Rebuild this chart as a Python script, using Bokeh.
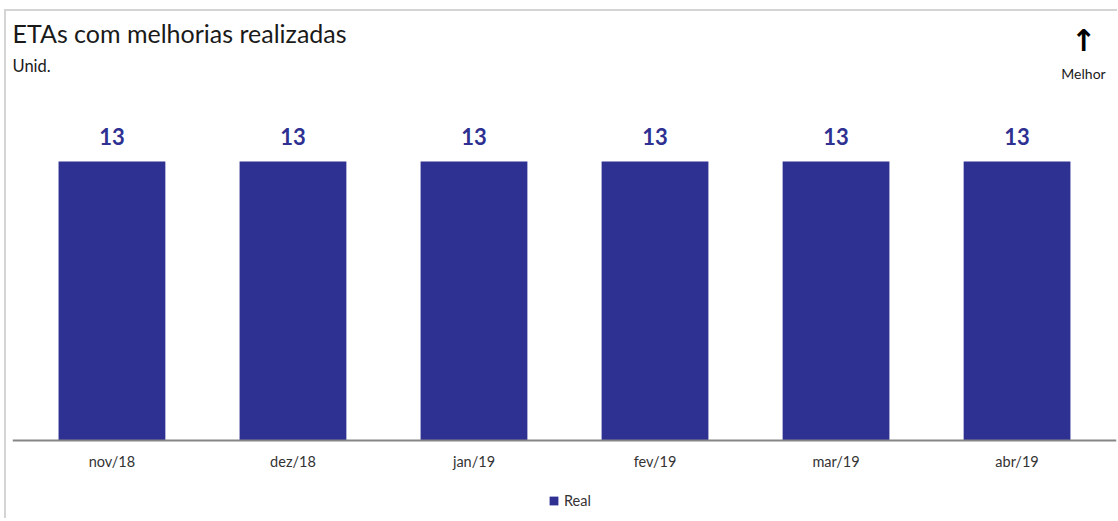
from bokeh.plotting import figure
from bokeh.models import ColumnDataSource, FactorRange, Range1d, LabelSet, Label, Legend, LegendItem, Span
from bokeh.core.properties import value
from bokeh.embed import file_html
from bokeh.resources import INLINE

categories = ["nov/18", "dez/18", "jan/19", "fev/19", "mar/19", "abr/19"]
real_values = [13, 13, 13, 13, 13, 13]
value_labels = [str(v) for v in real_values]

BAR = "#2E3192"
FONT = "Lato"

src = ColumnDataSource(dict(cat=categories, val=real_values, lab=value_labels))

p = figure(
    frame_width=1104, frame_height=504,
    x_range=FactorRange(*categories, range_padding=0.0494, range_padding_units="absolute"),
    y_range=Range1d(-3.634, 19.85),
    output_backend="svg", toolbar_location=None,
    min_border_left=6, min_border_right=1, min_border_top=3, min_border_bottom=0,
)
p.styles = {"margin-left": "4px", "margin-top": "9px",
            "border-left": "2px solid #d4d4d4", "border-top": "2px solid #d4d4d4"}
p.outline_line_color = None
p.xgrid.grid_line_color = None
p.ygrid.grid_line_color = None
p.xaxis.visible = False
p.yaxis.visible = False

r = p.vbar(x="cat", top="val", bottom=0, width=0.59, source=src, fill_color=BAR, line_color=None)

# category axis baseline and tick labels, placed with the plot's scales
p.add_layout(Span(location=0, dimension="width", line_color="#868686", line_width=2))
cat_labels = LabelSet(x="cat", y=0, text="cat", source=src, text_align="center",
                      text_baseline="middle", y_offset=-21, text_font=value(FONT),
                      text_font_size="14.5px", text_color="#333333")
p.add_layout(cat_labels)

labels = LabelSet(x="cat", y="val", text="lab", source=src, text_align="center",
                  text_baseline="alphabetic", y_offset=17, text_font=value(FONT),
                  text_font_size="22px", text_font_style="bold", text_color=BAR)
p.add_layout(labels)

p.add_layout(Label(x=0, y=486, x_units="screen", y_units="screen", text="ETAs com melhorias realizadas",
                   text_font=FONT, text_font_size="25px", text_color="#1a1a1a",
                   text_align="left", text_baseline="middle"))
p.add_layout(Label(x=0, y=453, x_units="screen", y_units="screen", text="Unid.",
                   text_font=FONT, text_font_size="16.5px", text_color="#1a1a1a",
                   text_align="left", text_baseline="middle"))
p.add_layout(Label(x=1071, y=478, x_units="screen", y_units="screen", text="↑",
                   text_font="DejaVu Sans", text_font_size="30px", text_font_style="bold",
                   text_color="#000000", text_align="center", text_baseline="middle"))
p.add_layout(Label(x=1071, y=445, x_units="screen", y_units="screen", text="Melhor",
                   text_font=FONT, text_font_size="14px", text_color="#1a1a1a",
                   text_align="center", text_baseline="middle"))

legend = Legend(items=[LegendItem(label="Real", renderers=[r])], orientation="horizontal",
                location=(536, 9), border_line_color=None, background_fill_alpha=0,
                label_text_font=FONT, label_text_font_size="14.5px", label_text_color="#333333",
                label_height=17, glyph_width=11, glyph_height=11, label_standoff=5,
                padding=0, margin=0)
p.add_layout(legend, "center")

open("out.html", "w").write(file_html(p, INLINE))
